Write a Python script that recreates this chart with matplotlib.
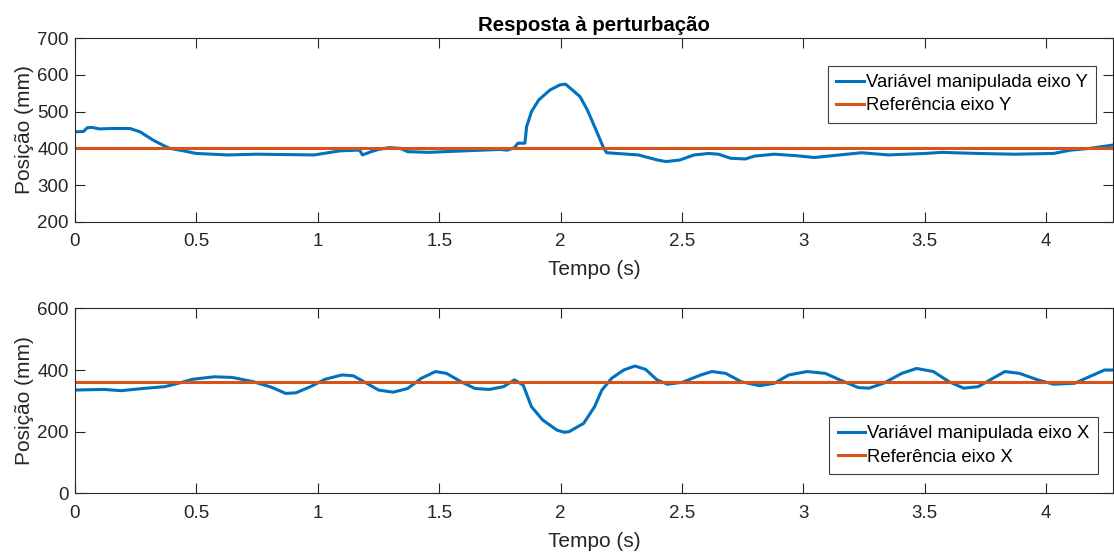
import matplotlib.pyplot as plt

plt.rcParams['font.family'] = ['Liberation Sans', 'DejaVu Sans']

# Eixo Y: tempo (s) e posição (mm)
tempo_y = [0, 0.035, 0.05, 0.07, 0.1, 0.15, 0.227, 0.268, 0.323, 0.364, 0.39, 0.44, 0.5,
           0.63, 0.75, 0.87, 0.985, 1.09, 1.16, 1.172, 1.184, 1.22, 1.25, 1.294, 1.34, 1.37,
           1.456, 1.6, 1.75, 1.78, 1.81, 1.824, 1.853, 1.86, 1.88, 1.91, 1.956, 1.997, 2.02,
           2.04, 2.08, 2.11, 2.14, 2.163, 2.178, 2.19, 2.276, 2.32, 2.4, 2.434, 2.49, 2.55,
           2.61, 2.65, 2.7, 2.76, 2.8, 2.88, 2.97, 3.045, 3.15, 3.24, 3.35, 3.5, 3.57, 3.72,
           3.87, 4.03, 4.1, 4.18, 4.275]
pos_y = [445, 446, 456, 457, 453, 454, 454, 445, 422, 408, 400, 394, 386,
         382, 384, 383, 382, 393, 395, 395, 382, 391, 397, 402, 400, 391,
         389, 393, 397, 395, 402, 414, 414, 459, 500, 532, 559, 573, 575,
         564, 541, 505, 459, 423, 400, 388, 384, 382, 368, 364, 368, 382,
         386, 384, 373, 371, 379, 384, 380, 375, 382, 388, 382, 386, 389, 386,
         384, 386, 395, 400, 409]
ref_y = 400

# Eixo X: tempo (s) e posição (mm)
tempo_x = [0, 0.118, 0.19, 0.28, 0.37, 0.426, 0.485, 0.574, 0.647, 0.735, 0.81, 0.868, 0.91,
           0.97, 1.03, 1.1, 1.147, 1.19, 1.25, 1.31, 1.37, 1.426, 1.485, 1.53, 1.59, 1.647,
           1.706, 1.765, 1.81, 1.846, 1.88, 1.926, 1.985, 2.015, 2.035, 2.095, 2.14, 2.17,
           2.21, 2.26, 2.306, 2.35, 2.397, 2.44, 2.5, 2.578, 2.623, 2.68, 2.744, 2.82, 2.88,
           2.94, 3.015, 3.09, 3.15, 3.226, 3.27, 3.33, 3.405, 3.466, 3.535, 3.6, 3.66, 3.72,
           3.78, 3.83, 3.89, 3.965, 4.03, 4.117, 4.177, 4.24, 4.275]
pos_x = [335, 337, 333, 340, 346, 357, 370, 378, 376, 362, 344, 324, 326,
         346, 370, 384, 381, 362, 335, 328, 340, 373, 395, 389, 362, 340,
         337, 346, 368, 351, 281, 238, 205, 198, 200, 227, 281, 335,
         373, 400, 413, 402, 368, 354, 360, 384, 395, 389, 362, 349, 357,
         384, 395, 389, 368, 343, 341, 357, 389, 405, 395, 362, 341, 346,
         373, 395, 389, 368, 354, 357, 378, 400, 400]
ref_x = 360

t_fim = 4.275
azul = '#0072BD'
laranja = '#D95319'
cinza = '#262626'

fig = plt.figure(figsize=(11.14, 5.52), dpi=100)
ax1 = fig.add_axes([0.0673, 0.5984, 0.9318, 0.3322])
ax2 = fig.add_axes([0.0673, 0.1063, 0.9318, 0.3351])


def estilo(ax, ylim, yticks):
    ax.set_xlim(0, t_fim)
    ax.set_ylim(*ylim)
    ax.set_yticks(yticks)
    ax.set_xticks([0, 0.5, 1, 1.5, 2, 2.5, 3, 3.5, 4])
    ax.set_xticklabels(['0', '0.5', '1', '1.5', '2', '2.5', '3', '3.5', '4'])
    ax.tick_params(direction='in', length=7.2, width=0.8, top=True, right=True,
                   labelsize=13.5, colors=cinza)
    ax.tick_params(axis='x', pad=8.5)
    ax.tick_params(axis='y', pad=4.5)
    for s in ax.spines.values():
        s.set_color(cinza)
        s.set_linewidth(0.8)
    ax.set_xlabel('Tempo (s)', fontsize=15, color=cinza, labelpad=7)
    ax.set_ylabel('Posição (mm)', fontsize=15, color=cinza, labelpad=2)


def legenda(ax, ancora):
    leg = ax.legend(loc='upper right', bbox_to_anchor=ancora, borderaxespad=0,
                    fontsize=13.3, fancybox=False, framealpha=1, edgecolor='#404040',
                    handlelength=1.5, handletextpad=0.1, borderpad=0.45, labelspacing=0.35)
    leg.get_frame().set_linewidth(0.8)


# Resposta no eixo Y
ax1.plot(tempo_y, pos_y, color=azul, lw=2.2, label='Variável manipulada eixo Y')
ax1.plot([0, t_fim], [ref_y, ref_y], color=laranja, lw=2.2, label='Referência eixo Y')
estilo(ax1, (200, 700), [200, 300, 400, 500, 600, 700])
ax1.set_title('Resposta à perturbação', fontsize=14.7, fontweight='bold', color='black', pad=5.5)
legenda(ax1, (0.9836, 0.8506))

# Resposta no eixo X
ax2.plot(tempo_x, pos_x, color=azul, lw=2.2, label='Variável manipulada eixo X')
ax2.plot([0, t_fim], [ref_x, ref_x], color=laranja, lw=2.2, label='Referência eixo X')
estilo(ax2, (0, 600), [0, 200, 400, 600])
legenda(ax2, (0.9855, 0.4124))

plt.savefig('out.png', dpi=100)
